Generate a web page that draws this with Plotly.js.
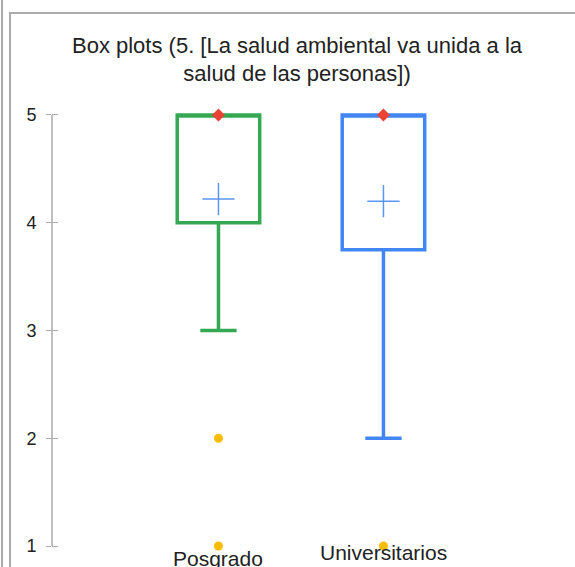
<!DOCTYPE html>
<html>
<head>
<meta charset="utf-8">
<script src="https://cdn.plot.ly/plotly-3.0.1.min.js"></script>
<style>
  html, body { margin: 0; padding: 0; background: #fff; }
  #wrap { position: relative; width: 575px; height: 567px; overflow: hidden; }
  #chart { position: absolute; left: 0; top: 0; width: 575px; height: 567px; }
  .frame { position: absolute; background: #ababab; z-index: 5; }
</style>
</head>
<body>
<div id="wrap">
  <div id="chart"></div>
  <div class="frame" style="left:1px; top:0; width:2px; height:567px;"></div>
  <div class="frame" style="left:9px; top:12px; width:2px; height:555px;"></div>
  <div class="frame" style="left:9px; top:12px; width:566px; height:2px;"></div>
</div>
<script>
// ---- data ----
const categories = ["Posgrado", "Universitarios"];
const q1Values = [4, 3.75];
const medianValues = [5, 5];
const q3Values = [5, 5];
const lowerWhisker = [3, 2];
const upperWhisker = [5, 5];
const meanValues = [4.22, 4.2];
const maxMarker = [5, 5];
const outliersPosgrado = [2, 1];
const outliersUniversitarios = [1];
const yTicks = [1, 2, 3, 4, 5];
const titleText = "Box plots (5. [La salud ambiental va unida a la<br>salud de las personas])";

// ---- styles ----
const boxColors = ["#34a853", "#4285f4"];
const meanColor = "#5b95f5";
const maxColor = "#ea4335";
const outlierColor = "#fbbc04";
const font = "Arial, 'Liberation Sans', sans-serif";

const traces = [];
categories.forEach((c, i) => {
  traces.push({
    type: "box",
    x: [c],
    q1: [q1Values[i]],
    median: [medianValues[i]],
    q3: [q3Values[i]],
    lowerfence: [lowerWhisker[i]],
    upperfence: [upperWhisker[i]],
    width: 0.5,
    whiskerwidth: 0.44,
    fillcolor: "rgba(0,0,0,0)",
    line: { color: boxColors[i], width: 3.5 },
    boxpoints: false,
    hoverinfo: "skip",
    showlegend: false
  });
});
// mean markers
traces.push({
  type: "scatter", mode: "markers",
  x: categories, y: meanValues,
  marker: { symbol: "cross-thin-open", size: 23, color: meanColor, line: { color: meanColor, width: 1.5 } },
  cliponaxis: false, showlegend: false, hoverinfo: "skip"
});
// outliers
traces.push({
  type: "scatter", mode: "markers",
  x: outliersPosgrado.map(() => categories[0]).concat(outliersUniversitarios.map(() => categories[1])),
  y: outliersPosgrado.concat(outliersUniversitarios),
  marker: { symbol: "circle", size: 9, color: outlierColor },
  cliponaxis: false, showlegend: false, hoverinfo: "skip"
});
// max markers
traces.push({
  type: "scatter", mode: "markers",
  x: categories, y: maxMarker,
  marker: { symbol: "diamond", size: 10, color: maxColor },
  cliponaxis: false, showlegend: false, hoverinfo: "skip"
});
// overlay trace for inside ticks
traces.push({ type: "scatter", x: [], y: [], yaxis: "y2", showlegend: false, hoverinfo: "skip" });

const yRange = [0.8515, 5.102];
const xRange = [-1.009, 2.161];

const layout = {
  width: 575, height: 567,
  margin: { l: 52, r: 0, t: 104, b: 5 },
  paper_bgcolor: "rgba(0,0,0,0)",
  plot_bgcolor: "rgba(0,0,0,0)",
  font: { family: font, color: "#222222" },
  boxmode: "overlay",
  title: {
    text: titleText,
    font: { family: font, size: 22, color: "#222222" },
    x: 297 / 575, xref: "container", xanchor: "center",
    y: 1 - 52.5 / 567, yref: "container", yanchor: "top"
  },
  xaxis: {
    type: "category", range: xRange,
    showticklabels: false, showgrid: false, zeroline: false, showline: false, ticks: ""
  },
  yaxis: {
    range: yRange, tickvals: yTicks, ticktext: yTicks.map(String),
    showgrid: false, zeroline: false, showline: false,
    ticks: "outside", ticklen: 5, tickwidth: 1, tickcolor: "#aaaaaa",
    ticklabelstandoff: 6,
    tickfont: { family: font, size: 18, color: "#222222" }
  },
  yaxis2: {
    overlaying: "y", side: "left", range: yRange, tickvals: yTicks,
    showticklabels: false, showgrid: false, zeroline: false, showline: false,
    ticks: "inside", ticklen: 6, tickwidth: 1, tickcolor: "#aaaaaa"
  },
  shapes: [{
    type: "line", xref: "paper", yref: "y", x0: 0, x1: 0, y0: yTicks[0], y1: yTicks[yTicks.length - 1],
    line: { color: "#aaaaaa", width: 1.5 }, layer: "below"
  }],
  annotations: [
    { text: categories[0], xref: "x", yref: "y", x: categories[0], y: 1, yanchor: "top", yshift: 1,
      showarrow: false, font: { family: font, size: 21, color: "#222222" } },
    { text: categories[1], xref: "x", yref: "y", x: categories[1], y: 1, yanchor: "top", yshift: 7,
      showarrow: false, font: { family: font, size: 21, color: "#222222" } }
  ]
};

Plotly.newPlot("chart", traces, layout, { displayModeBar: false, staticPlot: true });
</script>
</body>
</html>
